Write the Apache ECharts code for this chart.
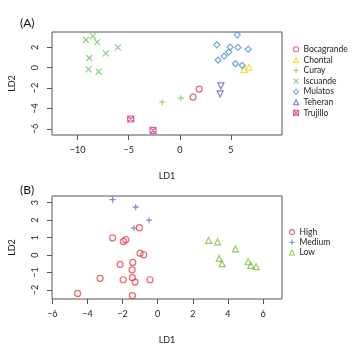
<!DOCTYPE html>
<html>
<head>
<meta charset="utf-8">
<script src="https://cdn.jsdelivr.net/npm/echarts@6/dist/echarts.min.js"></script>
<style>
  html, body { margin: 0; padding: 0; background: #fff; }
  #chart { width: 360px; height: 353px; }
</style>
</head>
<body>
<div id="chart"></div>
<script>
// panel A: LD scores per site
const bocagrande = [[1.9, -2.1], [1.3, -2.89]];
const chontal = [[6.3, -0.16], [6.76, 0.04]];
const curay = [[-1.71, -3.38], [0.1, -2.99]];
const iscuande = [[-9.19, 2.73], [-8.5, 3.09], [-8.08, 2.5], [-7.23, 1.4], [-6.05, 1.99], [-8.86, 0.95], [-8.92, -0.16], [-7.94, -0.39]];
const mulatos = [[5.62, 3.22], [3.63, 2.24], [4.93, 2.02], [5.69, 1.99], [6.7, 1.82], [4.8, 1.53], [4.34, 1.14], [3.75, 0.75], [5.45, 0.39], [6.11, 0.23]];
const teheran = [[4.02, -1.79], [3.95, -2.57]];
const trujillo = [[-4.8, -5.03], [-2.62, -6.15]];

// panel B: LD scores per level
const high = [[-1.04, 1.57], [-2.57, 0.99], [-1.82, 0.88], [-1.95, 0.78], [-1.0, 0.11], [-0.8, 0.02], [-2.14, -0.53], [-1.42, -0.42], [-1.46, -0.84], [-3.28, -1.33], [-1.97, -1.41], [-1.44, -1.29], [-1.29, -1.54], [-0.44, -1.41], [-4.56, -2.19], [-1.44, -2.32]];
const medium = [[-2.57, 3.17], [-1.25, 2.74], [-0.49, 2.0], [-1.35, 1.54]];
const low = [[2.9, 0.84], [3.41, 0.76], [4.43, 0.36], [3.5, -0.19], [3.67, -0.49], [5.15, -0.38], [5.3, -0.59], [5.61, -0.66]];

const xTicksA = [-10, -5, 0, 5];
const yTicksA = [-6, -4, -2, 0, 2];
const xTicksB = [-6, -4, -2, 0, 2, 4, 6];
const yTicksB = [-2, -1, 0, 1, 2, 3];

const FONT = "Lato";
const plusPath = "path://M0,5L10,5M5,0L5,10";
const crossPath = "path://M0,0L10,10M10,0L0,10";
const boxXPath = "path://M0,0L10,0L10,10L0,10ZM0,0L10,10M10,0L0,10";

// name, data, symbol, colour, rotation
const groupsA = [
  ["Bocagrande", bocagrande, "circle", "#E5404A", 0],
  ["Chontal", chontal, "triangle", "#F2CF1A", 0],
  ["Curay", curay, plusPath, "#8CC63E", 0],
  ["Iscuande", iscuande, crossPath, "#6DBF68", 0],
  ["Mulatos", mulatos, "diamond", "#4E8FD6", 0],
  ["Teheran", teheran, "triangle", "#6655BB", 180],
  ["Trujillo", trujillo, boxXPath, "#D4358B", 0],
];
const groupsB = [
  ["High", high, "circle", "#E5404A", 0],
  ["Medium", medium, plusPath, "#5A6BC0", 0],
  ["Low", low, "triangle", "#7BBF3A", 0],
];

function fmt(v) {
  return String(v).replace("-", "\u2212");
}

function xAxisFor(idx, min, max, ticks) {
  return {
    gridIndex: idx, type: "value", min: min, max: max,
    name: "LD1", nameLocation: "middle", nameGap: 37,
    nameTextStyle: { fontFamily: FONT, fontSize: 9, color: "#222" },
    axisLine: { show: false, onZero: false },
    axisTick: { show: true, length: 5, customValues: ticks, lineStyle: { color: "#555" } },
    axisLabel: { customValues: ticks, margin: 11, fontFamily: FONT, fontSize: 9, color: "#222", formatter: fmt },
    splitLine: { show: false },
  };
}

function yAxisFor(idx, min, max, ticks) {
  return {
    gridIndex: idx, type: "value", min: min, max: max,
    name: "LD2", nameLocation: "middle", nameGap: 35,
    nameTextStyle: { fontFamily: FONT, fontSize: 9, color: "#222" },
    axisLine: { show: false, onZero: false },
    axisTick: { show: true, length: 5, customValues: ticks, lineStyle: { color: "#555" } },
    axisLabel: { customValues: ticks, margin: 12, rotate: 90, fontFamily: FONT, fontSize: 9, color: "#222", formatter: fmt },
    splitLine: { show: false },
  };
}

function toSeries(g, grid) {
  return {
    type: "scatter", name: g[0], data: g[1],
    xAxisIndex: grid, yAxisIndex: grid,
    symbol: g[2], symbolSize: 6, symbolRotate: g[4],
    itemStyle: { color: "transparent", borderColor: g[3], borderWidth: 1.2 },
  };
}

function toLegendItem(g) {
  return {
    name: g[0], icon: g[2],
    itemStyle: { color: "transparent", borderColor: g[3], borderWidth: 1.1 },
  };
}

function legendFor(groups, left, top, lh) {
  return {
    orient: "vertical", left: left, top: top, padding: 0,
    itemWidth: 5, itemHeight: 5, itemGap: 0,
    textStyle: { fontFamily: FONT, fontSize: 8.5, lineHeight: lh, color: "#222" },
    data: groups.map(toLegendItem),
  };
}

const chart = echarts.init(document.getElementById("chart"));
chart.setOption({
  animation: false,
  title: [
    { text: "(A)", left: 15, top: 12, textStyle: { fontFamily: FONT, fontSize: 12, fontWeight: "normal", color: "#111" } },
    { text: "(B)", left: 15, top: 179, textStyle: { fontFamily: FONT, fontSize: 12, fontWeight: "normal", color: "#111" } },
  ],
  grid: [
    { left: 52, top: 32, width: 230, height: 103, show: true, borderColor: "#555", borderWidth: 1 },
    { left: 52, top: 196, width: 230, height: 103, show: true, borderColor: "#555", borderWidth: 1 },
  ],
  xAxis: [xAxisFor(0, -12.5, 10, xTicksA), xAxisFor(1, -6.02, 7.08, xTicksB)],
  yAxis: [yAxisFor(0, -6.6, 3.5, yTicksA), yAxisFor(1, -2.51, 3.38, yTicksB)],
  legend: [legendFor(groupsA, 293, 44, 10.6), legendFor(groupsB, 289, 227, 10.2)],
  series: groupsA.map(g => toSeries(g, 0)).concat(groupsB.map(g => toSeries(g, 1))),
});
</script>
</body>
</html>
